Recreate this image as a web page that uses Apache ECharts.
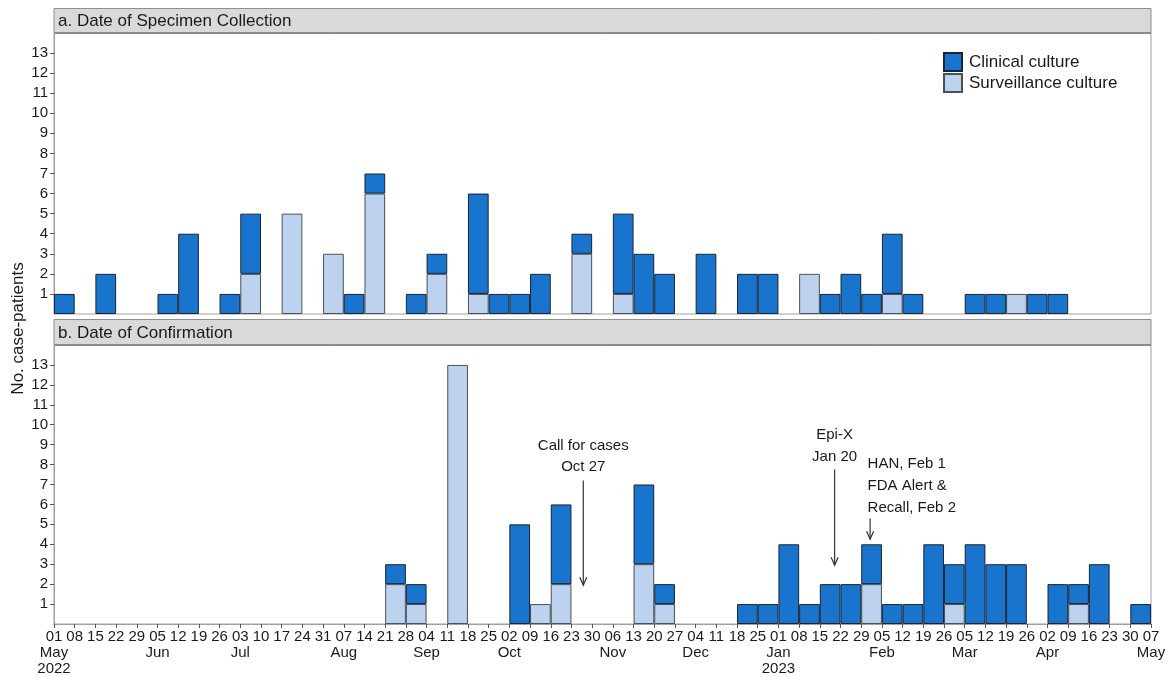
<!DOCTYPE html>
<html><head><meta charset="utf-8">
<script src="https://cdn.jsdelivr.net/npm/echarts@6/dist/echarts.min.js"></script>
<style>html,body{margin:0;padding:0;background:#fff}#c{width:1175px;height:677px}</style>
</head><body><div id="c"></div>
<script>
// ---- data ----
const weekStarts = [
 '2022-05-01','2022-05-08','2022-05-15','2022-05-22','2022-05-29','2022-06-05','2022-06-12','2022-06-19','2022-06-26',
 '2022-07-03','2022-07-10','2022-07-17','2022-07-24','2022-07-31','2022-08-07','2022-08-14','2022-08-21','2022-08-28',
 '2022-09-04','2022-09-11','2022-09-18','2022-09-25','2022-10-02','2022-10-09','2022-10-16','2022-10-23','2022-10-30',
 '2022-11-06','2022-11-13','2022-11-20','2022-11-27','2022-12-04','2022-12-11','2022-12-18','2022-12-25',
 '2023-01-01','2023-01-08','2023-01-15','2023-01-22','2023-01-29','2023-02-05','2023-02-12','2023-02-19','2023-02-26',
 '2023-03-05','2023-03-12','2023-03-19','2023-03-26','2023-04-02','2023-04-09','2023-04-16','2023-04-23','2023-04-30'];
const dayLabels = ['01','08','15','22','29','05','12','19','26','03','10','17','24','31','07','14','21','28',
 '04','11','18','25','02','09','16','23','30','06','13','20','27','04','11','18','25',
 '01','08','15','22','29','05','12','19','26','05','12','19','26','02','09','16','23','30','07'];
const monthLabels = ['May','','','','','Jun','','','','Jul','','','','','Aug','','','',
 'Sep','','','','Oct','','','','','Nov','','','','Dec','','','',
 'Jan','','','','','Feb','','','','Mar','','','','Apr','','','','','May'];
const yearLabels = ['2022','','','','','','','','','','','','','','','','','',
 '','','','','','','','','','','','','','','','','',
 '2023','','','','','','','','','','','','','','','','','',''];
const yTicks = [1,2,3,4,5,6,7,8,9,10,11,12,13];

const specClin = [1,0,2,0,0,1,4,0,1,3, 0,0,0,0,1,1,0,1,1,0, 5,1,1,2,0,1,0,4,3,2, 0,3,0,2,2,0,0,1,2,1, 3,1,0,0,1,1,0,1,1,0, 0,0,0];
const specSurv = [0,0,0,0,0,0,0,0,0,2, 0,5,0,3,0,6,0,0,2,0, 1,0,0,0,0,3,0,1,0,0, 0,0,0,0,0,0,2,0,0,0, 1,0,0,0,0,0,1,0,0,0, 0,0,0];
const confClin = [0,0,0,0,0,0,0,0,0,0, 0,0,0,0,0,0,1,1,0,0, 0,0,5,0,4,0,0,0,4,1, 0,0,0,1,1,4,1,2,2,2, 1,1,4,2,4,3,3,0,2,1, 3,0,1];
const confSurv = [0,0,0,0,0,0,0,0,0,0, 0,0,0,0,0,0,2,1,0,13, 0,0,0,1,2,0,0,0,3,1, 0,0,0,0,0,0,0,0,0,2, 0,0,0,1,0,0,0,0,0,1, 0,0,0];

// annotations (event dates, arrow top / bottom in case counts)
const annDates = ['2022-10-27','2023-01-20','2023-02-01'];
const annArrowTop = [7.2, 7.75, 5.3];
const annArrowBottom = [1.95, 2.95, 4.25];
const annLines = [['Call for cases','Oct 27'],['Epi-X','Jan 20'],['HAN, Feb 1','FDA Alert &','Recall, Feb 2']];
const annTextY = [[8.95,7.9],[9.48,8.38],[8.02,6.93,5.82]];
const annAlign = ['center','center','left'];

// ---- build ----
const FONT = "'Liberation Sans', Arial, sans-serif";
const CLIN = '#1874CD', SURV = '#BCD2EE';
const startMs = Date.UTC(2022,4,1);
function weekPos(d){ const p=d.split('-'); return (Date.UTC(+p[0],+p[1]-1,+p[2])-startMs)/(7*864e5); }
const nz = a => a.map(v => v===0 ? null : v);
const xTickVals = dayLabels.map((d,i)=>i);
const monthTickVals = monthLabels.map((m,i)=>m ? i : -1).filter(i=>i>=0);

const GL = 54, GW = 1097, GH = 281, TOPA = 33, TOPB = 345;

const chart = echarts.init(document.getElementById('c'), null, {renderer:'canvas'});

const yAxisBase = (gi) => ({
  type:'value', gridIndex:gi, min:0, max:14, interval:1,
  axisLine:{show:true, lineStyle:{color:'#a0a0a0', width:1}},
  axisTick:{show:true, length:4, lineStyle:{color:'#555'}, customValues:yTicks},
  splitLine:{show:false},
  axisLabel:{margin:6, fontSize:15, fontFamily:FONT, color:'#1a1a1a', customValues:yTicks,
    formatter:v => String(v)}
});

const annData = annDates.map((d,i)=>[weekPos(d), annArrowTop[i], annArrowBottom[i]]);

const option = {
  animation:false,
  backgroundColor:'#fff',
  grid:[
    {left:GL, top:TOPA, width:GW, height:GH, show:true, borderColor:'#a0a0a0', borderWidth:1, backgroundColor:'#fff'},
    {left:GL, top:TOPB, width:GW, height:GH, show:true, borderColor:'#a0a0a0', borderWidth:1, backgroundColor:'#fff'}
  ],
  xAxis:[
    {type:'category', gridIndex:0, data:weekStarts, show:false, boundaryGap:true},
    {type:'category', gridIndex:1, data:weekStarts, show:false, boundaryGap:true},
    {type:'value', gridIndex:1, min:0, max:53, interval:1, position:'bottom',
      axisLine:{show:true, lineStyle:{color:'#a0a0a0', width:1}},
      axisTick:{show:true, length:4, lineStyle:{color:'#555'}, customValues:xTickVals},
      splitLine:{show:false},
      axisLabel:{margin:5, fontSize:15, fontFamily:FONT, color:'#1a1a1a', lineHeight:16,
        showMinLabel:true, showMaxLabel:true, hideOverlap:false, customValues:xTickVals,
        formatter:(v)=>dayLabels[Math.round(v)]}
    },
    {type:'value', gridIndex:1, min:0, max:53, interval:1, position:'bottom',
      axisLine:{show:false}, axisTick:{show:false}, splitLine:{show:false},
      axisLabel:{margin:21, fontSize:15, fontFamily:FONT, color:'#1a1a1a', lineHeight:16,
        showMinLabel:true, showMaxLabel:true, hideOverlap:false, customValues:monthTickVals,
        formatter:(v)=>{ const i=Math.round(v); return monthLabels[i] + (yearLabels[i] ? '\n'+yearLabels[i] : ''); }}
    }
  ],
  yAxis:[yAxisBase(0), yAxisBase(1)],
  legend:{
    data:['Clinical culture','Surveillance culture'],
    orient:'vertical', left:943, top:52, padding:0, itemWidth:18, itemHeight:18, itemGap:1,
    icon:'rect',
    textStyle:{fontSize:17, fontFamily:FONT, color:'#1a1a1a', lineHeight:18, padding:[0,0,0,2]},
    selectedMode:false
  },
  series:[
    {name:'Surveillance culture', type:'bar', xAxisIndex:0, yAxisIndex:0, stack:'a', data:nz(specSurv),
      barWidth:'100%', barCategoryGap:'0%', itemStyle:{color:SURV, borderColor:'#4a4f58', borderWidth:1}},
    {name:'Clinical culture', type:'bar', xAxisIndex:0, yAxisIndex:0, stack:'a', data:nz(specClin),
      barWidth:'100%', barCategoryGap:'0%', itemStyle:{color:CLIN, borderColor:'#1a2430', borderWidth:1}},
    {name:'Surveillance culture', type:'bar', xAxisIndex:1, yAxisIndex:1, stack:'b', data:nz(confSurv),
      barWidth:'100%', barCategoryGap:'0%', itemStyle:{color:SURV, borderColor:'#4a4f58', borderWidth:1}},
    {name:'Clinical culture', type:'bar', xAxisIndex:1, yAxisIndex:1, stack:'b', data:nz(confClin),
      barWidth:'100%', barCategoryGap:'0%', itemStyle:{color:CLIN, borderColor:'#1a2430', borderWidth:1}},
    {type:'custom', xAxisIndex:2, yAxisIndex:1, data:annData, z:10, silent:true,
      renderItem:(params, api)=>{
        const i = params.dataIndex;
        const x = api.value(0);
        const p1 = api.coord([x, api.value(1)]), p2 = api.coord([x, api.value(2)]);
        const children = [
          {type:'line', shape:{x1:p1[0], y1:p1[1], x2:p2[0], y2:p2[1]}, style:{stroke:'#333', lineWidth:1.2}},
          {type:'polyline', shape:{points:[[p2[0]-3.5,p2[1]-8],[p2[0],p2[1]],[p2[0]+3.5,p2[1]-8]]}, style:{stroke:'#333', fill:null, lineWidth:1.2}}
        ];
        annLines[i].forEach((t,k)=>{
          const pt = api.coord([x, annTextY[i][k]]);
          children.push({type:'text', x: annAlign[i]==='left' ? pt[0]-2.5 : pt[0], y: pt[1],
            style:{text:t, font:'15px '+FONT, fill:'#1a1a1a', align:annAlign[i], verticalAlign:'middle'}});
        });
        return {type:'group', children};
      }
    }
  ],
  graphic:[
    {type:'rect', shape:{x:GL, y:8.5, width:GW, height:24.5}, style:{fill:'#d9d9d9', stroke:'#8f8f8f', lineWidth:1}},
    {type:'line', shape:{x1:GL, y1:33, x2:GL+GW, y2:33}, style:{stroke:'#666', lineWidth:1}},
    {type:'text', x:58, y:21, style:{text:'a. Date of Specimen Collection', font:'17px '+FONT, fill:'#1a1a1a', verticalAlign:'middle'}},
    {type:'rect', shape:{x:GL, y:319.5, width:GW, height:25.5}, style:{fill:'#d9d9d9', stroke:'#8f8f8f', lineWidth:1}},
    {type:'line', shape:{x1:GL, y1:345, x2:GL+GW, y2:345}, style:{stroke:'#666', lineWidth:1}},
    {type:'text', x:58, y:333, style:{text:'b. Date of Confirmation', font:'17px '+FONT, fill:'#1a1a1a', verticalAlign:'middle'}},
    {type:'text', x:18, y:328.5, rotation:Math.PI/2, style:{text:'No. case-patients', font:'17px '+FONT, fill:'#1a1a1a', align:'center', verticalAlign:'middle'}}
  ]
};
chart.setOption(option);
</script>
</body></html>
